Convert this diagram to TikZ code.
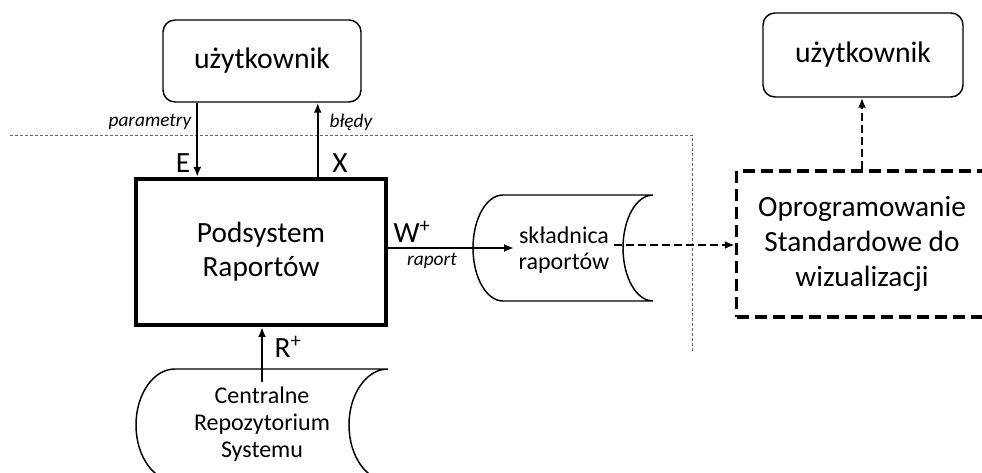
\documentclass[tikz,border=0pt]{standalone}
\usepackage{fontspec}
\setmainfont{Carlito}
\usetikzlibrary{arrows.meta, calc, positioning}

\tikzset{
  user/.style={draw, line width=1.1pt, rounded corners=9pt, minimum width=148.5pt, minimum height=61.5pt, font=\fontsize{22.3}{26}\selectfont},
  subsys/.style={draw, line width=3pt, minimum width=187.5pt, minimum height=109.5pt, align=center, font=\fontsize{22}{25.5}\selectfont},
  extsys/.style={draw, line width=2.6pt, dash pattern=on 9pt off 4.5pt, minimum width=188.25pt, minimum height=109.5pt, align=center, font=\fontsize{22}{26}\selectfont},
  storetxt/.style={align=center, font=\fontsize{18}{20}\selectfont},
  store/.style={draw, line width=1.1pt},
  flow/.style={font=\fontsize{22}{26}\selectfont},
  flowlbl/.style={font=\fontsize{14.5}{17}\selectfont\itshape},
  arr/.style={-{Latex[length=7.5pt,width=6pt]}, line width=1.5pt},
  darr/.style={arr, dash pattern=on 6pt off 3pt},
  border/.style={line width=0.6pt, black!60, dash pattern=on 2.25pt off 1.5pt}
}

\begin{document}
\begin{tikzpicture}[x=0.75pt, y=-0.75pt]
  \useasboundingbox (0,0) rectangle (982,473);
  \clip (0,0) rectangle (982,473);

  % system boundary
  \draw[border] (10,135) -- (692,135) -- (692,352);

  % boxes
  \node[user] (user1) at (262,61) {użytkownik};
  \node[user, minimum width=150pt, minimum height=63pt] (user2) at (863,55) {użytkownik};
  \node[subsys] (main) at (261,252) {Podsystem\\Raportów};
  \node[extsys] (vis) at (862,244) {Oprogramowanie\\Standardowe do\\wizualizacji};

  % stores
  \draw[store] (503,195) -- (653,195)
    arc[start angle=90, end angle=270, x radius=22.5pt, y radius=39.75pt]
    -- (503,301)
    arc[start angle=270, end angle=90, x radius=22.5pt, y radius=39.75pt] -- cycle;
  \node[storetxt] (skl) at (564,250) {składnica\\raportów};

  \draw[store] (175,369) -- (388,369)
    arc[start angle=90, end angle=270, x radius=29.25pt, y radius=42pt]
    -- (175,481)
    arc[start angle=270, end angle=90, x radius=29.25pt, y radius=42pt] -- cycle;
  \node[storetxt] (crs) at (262,424) {Centralne\\Repozytorium\\Systemu};

  % flows
  \coordinate (eTop) at ($(user1.south west)+(35,0)$);
  \coordinate (xTop) at ($(user1.south east)+(-44,0)$);
  \coordinate (wOut) at ($(main.east)+(0,-4)$);
  \coordinate (sOut) at ($(skl.east)+(0,-5)$);

  \draw[arr] (eTop) -- (eTop |- main.north);
  \draw[arr] (xTop |- main.north) -- (xTop);
  \draw[arr] (wOut) -- (wOut -| skl.west);
  \draw[arr] (crs.north) -- (crs.north |- main.south);
  \draw[darr] (sOut) -- (sOut -| vis.west);
  \draw[darr] (vis.north) -- (vis.north |- user2.south);

  % labels
  \node[flowlbl, anchor=east] (par) at (196,122) {parametry};
  \node[flowlbl, anchor=west] (err) at (325,122) {błędy};
  \node[flow] (lE) at (183,163) {E};
  \node[flow] (lX) at (340,163) {X};
  \node[flow] (lW) at (412,232) {W\textsuperscript{+}};
  \node[flowlbl] (rap) at (432,261) {raport};
  \node[flow] (lR) at (288,347) {R\textsuperscript{+}};
\end{tikzpicture}
\end{document}
